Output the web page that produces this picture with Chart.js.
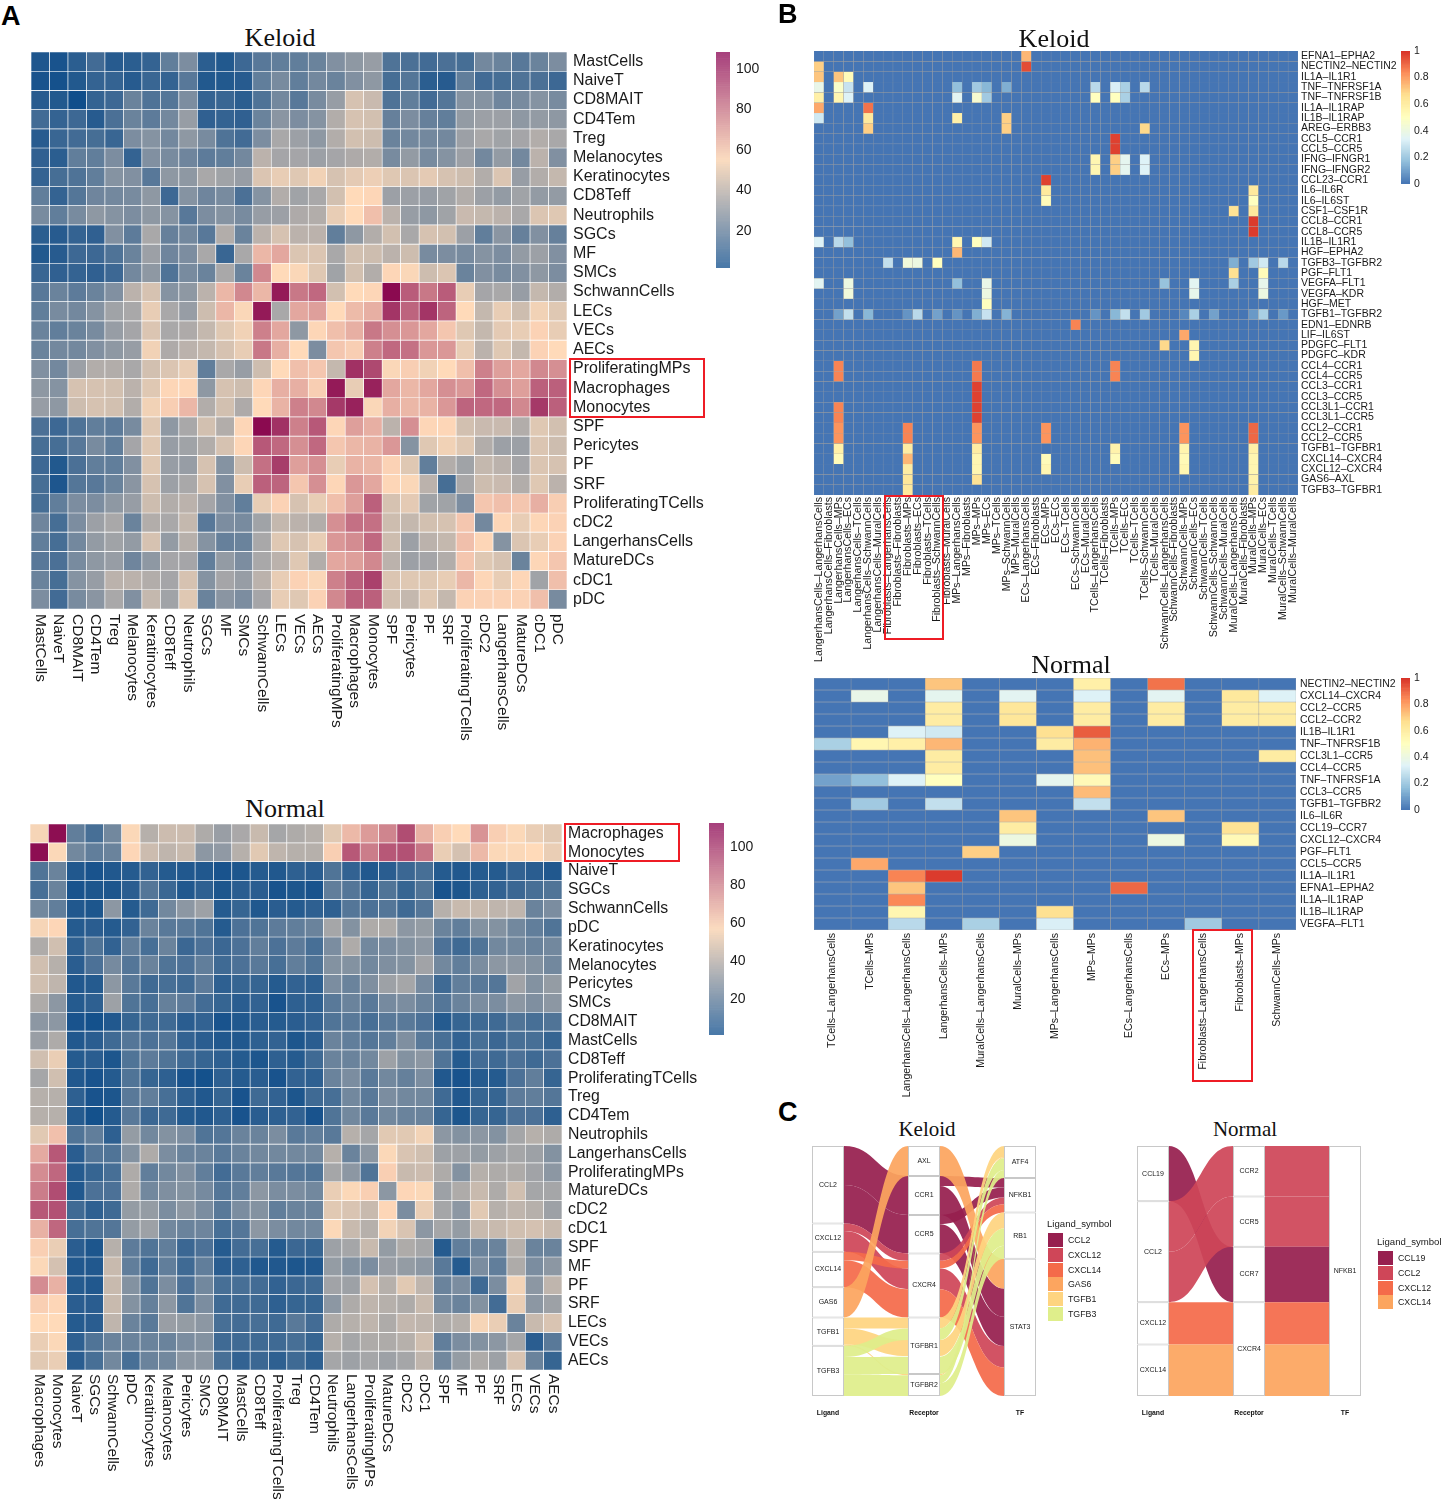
<!DOCTYPE html>
<html>
<head>
<meta charset="utf-8">
<script src="https://cdn.jsdelivr.net/npm/chart.js@4"></script>
<style>
  html, body { margin: 0; background: #fff; }
  #page { position: relative; width: 1448px; height: 1499px; overflow: hidden; font-family: "Liberation Sans", sans-serif; color: #1a1a1a; }
  canvas { position: absolute; }
  .letter { position: absolute; font-weight: bold; font-size: 27px; line-height: 27px; color: #000; }
  .title { position: absolute; font-family: "Liberation Serif", serif; line-height: 1; transform: translate(-50%, -50%); color: #111; white-space: nowrap; }
  .box { position: absolute; border: 2px solid #ee1c25; box-sizing: border-box; }
  .lgTitle { position: absolute; font-size: 9.6px; line-height: 12px; white-space: nowrap; }
  .lgRow { position: absolute; font-size: 8.8px; line-height: 14px; white-space: nowrap; }
  .lgRow i { position: absolute; left: -20px; top: 0; width: 15px; height: 14px; }
</style>
</head>
<body>
<div id="page"></div>
<script>
// Panel A, Keloid: cell-cell interaction counts
const aKeloidLabels = ['MastCells','NaiveT','CD8MAIT','CD4Tem','Treg','Melanocytes','Keratinocytes','CD8Teff','Neutrophils','SGCs','MF','SMCs','SchwannCells','LECs','VECs','AECs','ProliferatingMPs','Macrophages','Monocytes','SPF','Pericytes','PF','SRF','ProliferatingTCells','cDC2','LangerhansCells','MatureDCs','cDC1','pDC'];
const aKeloidValues = [
  [5,4,8,13,7,8,10,20,26,8,6,12,18,20,20,22,27,30,32,16,15,13,15,14,24,22,18,22,26],
  [4,3,6,10,10,7,11,10,18,6,6,7,20,25,20,24,22,27,30,14,17,8,7,20,13,14,16,15,12],
  [7,6,2,10,12,22,16,17,26,10,11,8,16,24,18,25,32,46,43,16,20,13,17,28,28,23,25,28,25],
  [13,10,12,7,15,22,19,24,32,9,10,9,22,29,26,28,38,46,45,21,26,21,20,31,33,33,30,31,30],
  [7,11,13,14,11,26,28,24,30,25,16,13,26,36,33,30,38,45,44,22,24,24,24,33,36,34,35,38,36],
  [9,8,20,20,26,10,27,25,23,19,20,24,40,35,35,33,35,37,38,25,31,25,28,33,24,31,24,40,27],
  [10,14,16,20,28,27,18,30,30,36,34,32,47,50,48,52,46,49,51,48,47,49,46,44,38,47,32,38,42],
  [20,10,17,23,24,25,30,12,28,23,25,15,28,38,34,36,45,55,56,33,33,32,34,38,33,31,34,31,31],
  [25,20,25,30,28,26,30,28,18,26,28,25,32,33,37,38,50,55,62,40,32,30,34,43,42,40,36,47,48],
  [8,7,10,9,27,19,36,21,24,18,38,22,40,46,40,40,20,30,38,45,36,46,45,33,20,29,21,27,21],
  [6,7,12,12,16,22,33,23,26,36,11,36,64,68,47,47,36,45,44,40,44,25,26,25,28,26,31,33,27],
  [11,9,10,9,12,24,30,16,25,22,36,22,76,55,54,48,34,45,38,56,54,44,47,22,27,25,27,30,26],
  [18,22,19,22,27,40,46,28,30,40,64,76,64,104,80,84,45,55,56,108,87,80,87,50,35,36,32,42,38],
  [20,25,24,28,34,36,50,36,32,44,64,54,104,36,68,70,55,63,66,97,85,97,85,55,42,50,44,52,48],
  [22,20,22,25,32,35,47,36,37,42,48,52,78,68,30,56,62,66,80,74,72,68,60,48,42,49,50,57,50],
  [22,24,24,27,30,32,52,37,40,42,46,50,80,66,55,26,60,58,78,84,82,72,72,50,40,48,42,57,55],
  [27,24,33,38,38,36,45,47,50,20,36,32,44,55,62,60,42,98,92,54,58,52,55,62,78,70,68,76,74],
  [30,28,46,46,45,40,48,56,56,30,46,44,56,66,66,58,104,50,102,68,64,68,74,72,84,74,70,86,86],
  [32,30,44,46,45,38,52,58,64,38,45,37,55,65,78,76,96,102,54,66,64,65,72,85,84,84,76,96,86],
  [15,12,16,20,19,25,48,30,36,45,38,56,108,98,78,88,56,70,66,40,74,56,56,45,43,43,38,48,45],
  [14,14,18,25,20,35,48,32,34,38,46,56,88,84,74,84,60,64,65,72,28,48,52,48,38,33,33,47,44],
  [12,6,15,20,20,27,48,32,32,46,28,44,82,95,70,74,50,65,64,57,48,20,38,34,42,40,35,47,46],
  [14,5,17,18,22,29,46,33,36,46,27,50,86,85,60,74,56,72,68,56,54,40,14,36,44,43,38,48,40],
  [14,20,26,26,30,32,44,38,40,35,27,20,50,57,46,50,62,70,86,46,49,34,34,26,60,62,60,66,58],
  [23,14,26,33,36,22,38,36,42,18,26,25,34,42,40,38,74,82,82,44,42,45,46,60,24,56,50,56,57],
  [20,14,24,31,34,31,46,31,39,28,21,22,36,48,46,50,72,75,84,44,33,40,42,62,56,28,47,50,57],
  [18,15,25,30,32,23,30,35,35,20,31,26,36,40,48,38,68,70,76,40,33,35,38,60,48,46,22,56,60],
  [22,14,28,32,40,40,38,35,46,28,35,32,40,50,57,54,78,86,94,47,48,48,50,64,56,50,56,34,62],
  [26,13,25,29,36,27,42,34,48,22,29,26,35,50,48,57,76,86,86,45,42,48,42,57,57,57,57,62,25]
];

// Panel A, Normal
const aNormalLabels = ['Macrophages','Monocytes','NaiveT','SGCs','SchwannCells','pDC','Keratinocytes','Melanocytes','Pericytes','SMCs','CD8MAIT','MastCells','CD8Teff','ProliferatingTCells','Treg','CD4Tem','Neutrophils','LangerhansCells','ProliferatingMPs','MatureDCs','cDC2','cDC1','SPF','MF','PF','SRF','LECs','VECs','AECs'];
const aNormalValues = [
  [55,112,20,14,24,56,40,45,45,38,33,37,44,36,38,40,50,66,74,80,95,68,60,57,76,60,56,52,50],
  [112,56,24,20,22,58,45,42,44,30,31,40,50,42,40,40,60,92,82,92,94,84,52,47,66,56,56,57,52],
  [16,22,5,3,5,6,9,6,5,5,3,4,6,5,8,7,16,9,5,7,11,14,6,5,6,6,9,7,5],
  [14,22,3,4,4,7,17,11,5,8,4,7,7,3,4,3,20,17,10,16,10,16,3,4,8,9,11,14,16],
  [24,20,5,4,30,6,12,24,30,34,6,10,5,7,6,8,8,17,15,17,12,17,40,44,44,42,42,22,26],
  [55,58,6,7,6,9,22,18,18,16,6,15,16,19,20,22,36,28,38,38,30,32,22,20,28,28,24,20,16],
  [38,46,8,16,9,20,14,22,11,15,11,15,20,15,19,14,26,38,24,26,28,30,15,12,16,24,24,22,24],
  [46,40,7,15,25,17,22,16,15,20,12,15,18,14,20,16,28,28,24,27,28,35,24,20,26,30,30,28,24],
  [46,42,5,6,30,18,12,14,12,19,8,10,10,6,9,8,26,22,27,34,36,25,12,20,18,17,35,28,32],
  [38,30,6,8,34,16,14,21,19,13,10,7,9,3,8,8,18,22,18,25,26,22,17,22,26,26,30,27,30],
  [30,30,3,2,5,10,12,12,7,9,3,5,7,6,7,9,16,18,14,18,18,15,6,10,12,12,16,14,16],
  [33,38,5,7,12,17,15,17,9,7,5,5,8,9,4,7,22,20,17,20,27,18,14,9,14,11,14,14,10],
  [46,52,6,7,4,16,19,16,12,10,8,6,4,8,6,12,22,22,24,34,28,30,16,6,13,12,15,12,15],
  [36,46,5,3,6,16,10,8,3,2,8,6,7,3,9,8,22,26,18,24,21,26,5,3,6,6,15,20,10],
  [40,40,8,3,4,18,20,14,8,5,10,3,12,9,4,12,14,24,18,26,24,24,12,5,10,10,19,20,17],
  [40,40,6,2,6,18,11,12,6,5,8,3,7,8,9,3,16,24,18,24,22,22,10,4,10,10,15,15,8],
  [50,64,16,20,8,32,24,28,26,16,17,22,22,26,18,20,18,40,36,50,50,54,30,28,30,28,36,40,38],
  [70,92,7,17,16,28,38,26,22,22,18,22,24,24,24,24,40,22,30,56,48,46,34,34,32,34,36,34,28],
  [78,88,6,10,14,38,20,24,27,20,13,18,20,18,17,16,36,30,16,60,44,45,38,28,40,38,38,35,30],
  [82,95,5,15,15,38,24,27,28,25,17,20,30,26,26,24,52,56,60,30,58,56,34,38,44,38,46,36,36],
  [92,94,12,8,12,32,32,26,30,26,18,26,28,20,22,22,50,48,44,58,26,52,36,30,50,40,42,40,34],
  [68,88,14,16,17,32,34,24,22,23,14,17,30,26,24,24,56,44,40,54,48,30,36,32,44,44,46,47,44],
  [60,52,7,4,40,19,16,20,11,15,6,13,14,6,11,10,34,36,44,32,38,36,6,20,22,22,40,22,22],
  [56,47,5,5,44,20,12,20,12,20,7,8,5,5,4,5,32,28,26,33,32,30,18,6,26,20,38,26,30],
  [78,68,6,5,44,28,16,26,15,24,14,14,13,9,11,12,35,34,47,40,50,42,22,26,12,26,54,30,42],
  [60,58,7,7,44,28,21,30,16,26,12,12,12,8,10,10,30,38,42,40,38,44,24,22,28,13,52,30,34],
  [57,57,6,7,42,22,18,33,32,30,14,13,14,12,18,13,38,40,42,38,43,42,38,40,55,52,22,44,48],
  [52,56,8,16,22,22,22,22,26,28,12,12,12,12,14,10,40,36,38,38,40,46,20,26,28,30,36,7,18],
  [50,52,7,14,24,14,22,24,30,30,14,9,11,8,12,8,36,34,36,34,36,42,24,32,38,34,48,22,10]
];

// Panel B, Keloid: ligand-receptor scores, only the non zero cells as [row, column, score]
const cellTypes = ['LangerhansCells','Fibroblasts','MPs','ECs','TCells','SchwannCells','MuralCells'];
const bKeloidCols = cellTypes.flatMap(a => cellTypes.map(b => a + '\u2013' + b));
const bKeloidRows = ['EFNA1\u2013EPHA2','NECTIN2\u2013NECTIN2','IL1A\u2013IL1R1','TNF\u2013TNFRSF1A','TNF\u2013TNFRSF1B','IL1A\u2013IL1RAP','IL1B\u2013IL1RAP','AREG\u2013ERBB3','CCL5\u2013CCR1','CCL5\u2013CCR5','IFNG\u2013IFNGR1','IFNG\u2013IFNGR2','CCL23\u2013CCR1','IL6\u2013IL6R','IL6\u2013IL6ST','CSF1\u2013CSF1R','CCL8\u2013CCR1','CCL8\u2013CCR5','IL1B\u2013IL1R1','HGF\u2013EPHA2','TGFB3\u2013TGFBR2','PGF\u2013FLT1','VEGFA\u2013FLT1','VEGFA\u2013KDR','HGF\u2013MET','TGFB1\u2013TGFBR2','EDN1\u2013EDNRB','LIF\u2013IL6ST','PDGFC\u2013FLT1','PDGFC\u2013KDR','CCL4\u2013CCR1','CCL4\u2013CCR5','CCL3\u2013CCR1','CCL3\u2013CCR5','CCL3L1\u2013CCR1','CCL3L1\u2013CCR5','CCL2\u2013CCR1','CCL2\u2013CCR5','TGFB1\u2013TGFBR1','CXCL14\u2013CXCR4','CXCL12\u2013CXCR4','GAS6\u2013AXL','TGFB3\u2013TGFBR1'];
const bKeloidCells = [
  [0,21,.75],[1,0,.7],[1,21,.95],[2,0,.72],[2,2,.72],[2,3,.52],
  [3,0,.38],[3,2,.47],[3,3,.28],[3,5,.33],[3,14,.17],[3,16,.2],[3,17,.15],[3,19,.13],[3,28,.25],[3,30,.32],[3,31,.22],[3,33,.25],
  [4,0,.58],[4,2,.55],[4,3,.33],[4,14,.35],[4,16,.45],[4,17,.2],[4,28,.5],[4,30,.5],[4,31,.22],
  [5,0,.78],[5,5,.88],[6,0,.3],[6,5,.62],[6,14,.58],[6,19,.7],[7,5,.7],[7,19,.7],[7,33,.68],
  [8,30,.97],[9,30,.97],[10,28,.55],[10,30,.7],[10,31,.36],[10,33,.33],[11,28,.55],[11,30,.7],[11,31,.36],[11,33,.33],
  [12,23,.97],[13,23,.62],[13,44,.62],[14,23,.52],[14,44,.5],[15,42,.65],[15,44,.62],[16,44,.98],[17,44,.98],
  [18,0,.33],[18,2,.25],[18,3,.17],[18,14,.55],[18,16,.5],[18,17,.3],[19,14,.75],
  [20,7,.27],[20,9,.42],[20,10,.4],[20,12,.5],[20,42,.13],[20,44,.2],[20,45,.3],[20,47,.25],[21,42,.66],[21,45,.52],
  [22,0,.35],[22,3,.4],[22,14,.17],[22,17,.38],[22,35,.18],[22,38,.35],[22,42,.22],[22,45,.37],
  [23,3,.42],[23,17,.4],[23,38,.37],[23,45,.4],[24,17,.5],
  [25,2,.1],[25,3,.27],[25,5,.15],[25,9,.07],[25,10,.25],[25,12,.1],[25,14,.07],[25,16,.13],[25,17,.28],[25,19,.14],[25,28,.07],[25,30,.15],[25,31,.27],[25,33,.2],[25,37,.04],[25,38,.22],[25,40,.1],[25,44,.08],[25,45,.22],[25,47,.08],
  [26,26,.85],[27,37,.78],[28,35,.68],[28,38,.55],[29,38,.55],
  [30,2,.85],[30,16,.87],[30,30,.85],[31,2,.85],[31,16,.87],[31,30,.85],[32,16,.97],[33,16,.97],[34,2,.85],[34,16,.97],[35,2,.85],[35,16,.97],
  [36,2,.82],[36,9,.85],[36,16,.82],[36,23,.82],[36,37,.82],[36,44,.9],[37,2,.82],[37,9,.85],[37,16,.82],[37,23,.82],[37,37,.82],[37,44,.9],
  [38,2,.58],[38,9,.6],[38,16,.6],[38,30,.57],[38,37,.56],[38,44,.58],
  [39,2,.52],[39,9,.75],[39,16,.55],[39,23,.52],[39,30,.52],[39,37,.53],[39,44,.55],
  [40,9,.6],[40,16,.55],[40,23,.55],[40,37,.55],[40,44,.55],[41,9,.63],[41,16,.65],[41,44,.57],[42,9,.62],[42,44,.6]
];

// Panel B, Normal
const bNormalCols = ['TCells\u2013LangerhansCells','TCells\u2013MPs','LangerhansCells\u2013LangerhansCells','LangerhansCells\u2013MPs','MuralCells\u2013LangerhansCells','MuralCells\u2013MPs','MPs\u2013LangerhansCells','MPs\u2013MPs','ECs\u2013LangerhansCells','ECs\u2013MPs','Fibroblasts\u2013LangerhansCells','Fibroblasts\u2013MPs','SchwannCells\u2013MPs'];
const bNormalRows = ['NECTIN2\u2013NECTIN2','CXCL14\u2013CXCR4','CCL2\u2013CCR5','CCL2\u2013CCR2','IL1B\u2013IL1R1','TNF\u2013TNFRSF1B','CCL3L1\u2013CCR5','CCL4\u2013CCR5','TNF\u2013TNFRSF1A','CCL3\u2013CCR5','TGFB1\u2013TGFBR2','IL6\u2013IL6R','CCL19\u2013CCR7','CXCL12\u2013CXCR4','PGF\u2013FLT1','CCL5\u2013CCR5','IL1A\u2013IL1R1','EFNA1\u2013EPHA2','IL1A\u2013IL1RAP','IL1B\u2013IL1RAP','VEGFA\u2013FLT1'];
const bNormalCells = [
  [0,3,.72],[0,7,.58],[0,9,.88],
  [1,1,.38],[1,3,.36],[1,5,.35],[1,7,.33],[1,9,.35],[1,11,.62],[1,12,.33],
  [2,3,.6],[2,5,.63],[2,7,.6],[2,9,.6],[2,11,.6],[2,12,.6],
  [3,3,.6],[3,5,.63],[3,7,.6],[3,9,.6],[3,11,.6],[3,12,.6],
  [4,2,.33],[4,3,.3],[4,6,.66],[4,7,.92],
  [5,0,.22],[5,1,.55],[5,2,.58],[5,3,.75],[5,6,.6],[5,7,.76],
  [6,3,.6],[6,7,.73],[6,12,.6],[7,3,.6],[7,7,.73],
  [8,0,.1],[8,1,.17],[8,2,.33],[8,3,.5],[8,6,.36],[8,7,.53],
  [9,7,.74],[10,1,.2],[10,3,.27],[10,7,.27],[11,5,.72],[11,9,.72],[12,5,.6],[12,11,.65],
  [13,5,.4],[13,9,.4],[13,11,.53],[14,4,.7],[15,1,.78],[16,2,.85],[16,3,.98],[17,2,.72],[17,8,.9],
  [18,2,.84],[19,2,.55],[19,6,.66],[20,2,.25],[20,4,.22],[20,6,.32],[20,10,.2]
];

// Panel C: stratum weights per axis
const cAxes = ['Ligand','Receptor','TF'];
const cKeloidLigands = ['CCL2','CXCL12','CXCL14','GAS6','TGFB1','TGFB3'];
const cKeloidLigandWeights = [23.3,8.5,10.6,9.1,8.5,15.1];
const cKeloidReceptors = ['AXL','CCR1','CCR5','CXCR4','TGFBR1','TGFBR2'];
const cKeloidReceptorWeights = [9,11.7,11.6,19.2,17,6.6];
const cKeloidTFs = ['ATF4','NFKB1','RB1','STAT3'];
const cKeloidTFWeights = [9.6,10.4,13.9,41.2];
// flows: [from axis, from top, from bottom, to top, to bottom, ligand index]
const cKeloidFlows = [
  [0,0,11.7,9,20.7,0],[0,11.7,23.3,20.7,32.3,0],
  [0,23.3,25.5,32.3,34.5,1],[0,25.5,31.8,36.8,43,1],
  [0,31.8,34.3,34.5,36.8,2],[0,34.3,42.4,43,51.5,2],
  [0,42.4,51.5,0,9,3],
  [0,51.5,54.8,51.5,54.8,4],[0,54.8,59.6,58.3,63.1,4],[0,59.6,60,68.5,68.9,4],
  [0,60,63.4,54.8,58.3,5],[0,63.4,68.6,63.3,68.5,5],[0,68.6,75.1,68.9,75.1,5],
  [1,9,12,9.6,12.5,0],[1,12,20.7,42.8,51.3,0],[1,20.7,23.5,12.5,15.5,0],[1,23.5,32.3,51.3,60.1,0],
  [1,32.3,34.5,15.5,17.5,1],[1,36.8,43,60.1,66.5,1],
  [1,34.5,36.8,17.5,20,2],[1,43,51.5,66.5,75.1,2],
  [1,0,9,33.9,42.8,3],
  [1,51.5,54.8,0,3.3,4],[1,58.3,63.1,20,24.8,4],[1,68.5,68.9,3.3,3.7,4],
  [1,54.8,58.3,3.7,7.2,5],[1,63.3,68.5,24.8,30,5],[1,68.9,71.3,7.2,9.6,5],[1,71.3,75.1,30,33.9,5]
];
const cNormalLigands = ['CCL19','CCL2','CXCL12','CXCL14'];
const cNormalLigandWeights = [16.6,30.3,12.7,15.5];
const cNormalReceptors = ['CCR2','CCR5','CCR7','CXCR4'];
const cNormalReceptorWeights = [15.2,15.1,16.6,28.2];
const cNormalTFs = ['NFKB1'];
const cNormalTFWeights = [75.1];
const cNormalFlows = [
  [0,0,16.6,30.3,46.9,0],[0,16.6,31.8,0,15.2,1],[0,31.8,46.9,15.2,30.3,1],
  [0,46.9,59.6,46.9,59.6,2],[0,59.6,75.1,59.6,75.1,3],
  [1,0,15.2,0,15.2,1],[1,15.2,30.3,15.2,30.3,1],[1,30.3,46.9,30.3,46.9,0],
  [1,46.9,59.6,46.9,59.6,2],[1,59.6,75.1,59.6,75.1,3]
];
const cKeloidColors = ['#971f4f','#cf4658','#f46b4a','#fca55f','#fed480','#dfee8b'];
const cNormalColors = ['#971f4f','#cf4658','#f46b4a','#fca55f'];

const page = document.getElementById('page');
const sansFont = '"Liberation Sans", sans-serif';

function hex(c) {
  return [1, 3, 5].map(i => parseInt(c.substr(i, 2), 16));
}

// piecewise linear colour ramp over evenly spaced stops
function ramp(stops, lo, hi) {
  const rgb = stops.map(hex);
  return v => {
    const t = Math.min(1, Math.max(0, (v - lo) / (hi - lo))) * (rgb.length - 1);
    const i = Math.min(rgb.length - 2, Math.floor(t));
    const f = t - i;
    const c = rgb[i].map((a, k) => Math.round(a + (rgb[i + 1][k] - a) * f));
    return 'rgb(' + c.join(',') + ')';
  };
}

const countStops = ['#104e8b', '#ffdab9', '#8b0a50'];
const countBarStops = ['#4878a8', '#fbdcc0', '#a63f7c'];
const scoreStops = ['#4575b4', '#91bfdb', '#e0f3f8', '#ffffbf', '#fee090', '#fc8d59', '#d73027'];

function addCanvas(left, top, width, height) {
  const c = document.createElement('canvas');
  c.width = width;
  c.height = height;
  c.style.left = left + 'px';
  c.style.top = top + 'px';
  page.appendChild(c);
  return c;
}

function addText(cls, text, left, top, size) {
  const d = document.createElement('div');
  d.className = cls;
  d.textContent = text;
  d.style.left = left + 'px';
  d.style.top = top + 'px';
  if (size) d.style.fontSize = size + 'px';
  page.appendChild(d);
  return d;
}

function addBox(x0, y0, x1, y1) {
  const d = document.createElement('div');
  d.className = 'box';
  d.style.cssText = `left:${x0}px;top:${y0}px;width:${x1 - x0}px;height:${y1 - y0}px`;
  page.appendChild(d);
}

function sparseToMatrix(rows, cols, cells) {
  const m = rows.map(() => cols.map(() => 0));
  cells.forEach(([r, c, v]) => { m[r][c] = v; });
  return m;
}

// Each row is a dataset of floating bars, so a cell is a bar on the shared slot
function heatmap(o) {
  const w = Math.round(o.width), h = Math.round(o.height);
  const canvas = addCanvas(o.left, o.top, w + o.rowLabelWidth, h + o.colLabelHeight);
  const color = ramp(o.stops, o.lo, o.hi);
  new Chart(canvas, {
    type: 'bar',
    data: {
      labels: o.cols,
      datasets: o.rows.map((name, r) => ({
        label: name,
        data: o.cols.map(() => [r - 0.5, r + 0.5]),
        backgroundColor: o.values[r].map(color),
        borderColor: o.border,
        borderWidth: o.borderWidth,
        borderSkipped: false,
        barPercentage: 1,
        categoryPercentage: 1
      }))
    },
    options: {
      responsive: false,
      animation: false,
      events: [],
      layout: { padding: 0 },
      plugins: { legend: { display: false }, tooltip: { enabled: false } },
      scales: {
        x: {
          stacked: true,
          grid: { display: false, drawTicks: false },
          border: { display: false },
          ticks: {
            autoSkip: false,
            minRotation: o.colRotation,
            maxRotation: o.colRotation,
            padding: o.colPad,
            color: '#1a1a1a',
            font: { family: sansFont, size: o.colFont }
          },
          afterBuildTicks: s => {
            if (o.colRotation < 0) s._getXAxisLabelAlignment = () => 'left';
          },
          afterFit: s => { s.height = o.colLabelHeight; s.paddingLeft = 0; s.paddingRight = 0; }
        },
        y: {
          position: 'right',
          reverse: true,
          min: -0.5,
          max: o.rows.length - 0.5,
          grid: { display: false, drawTicks: false },
          border: { display: false },
          ticks: {
            autoSkip: false,
            padding: o.rowPad,
            color: '#1a1a1a',
            font: { family: sansFont, size: o.rowFont },
            callback: v => o.rows[v]
          },
          afterBuildTicks: s => { s.ticks = o.rows.map((_, i) => ({ value: i })); },
          afterFit: s => { s.width = o.rowLabelWidth; s.paddingTop = 0; s.paddingBottom = 0; }
        }
      }
    }
  });
}

function colorbar(o) {
  const pad = 9;
  const canvas = addCanvas(o.left, o.top - pad, o.width + 40, o.height + pad * 2);
  const color = ramp(o.stops, o.lo, o.hi);
  const step = (o.hi - o.lo) / 100;
  const segments = [];
  for (let i = 0; i < 100; i++) {
    const a = o.lo + i * step;
    segments.push({ data: [[a, a + step]], backgroundColor: color(a + step / 2), barPercentage: 1, categoryPercentage: 1 });
  }
  new Chart(canvas, {
    type: 'bar',
    data: { labels: [''], datasets: segments },
    options: {
      responsive: false,
      animation: false,
      events: [],
      layout: { padding: { top: pad, bottom: pad } },
      plugins: { legend: { display: false }, tooltip: { enabled: false } },
      scales: {
        x: { display: false, stacked: true },
        y: {
          position: 'right',
          min: o.lo,
          max: o.hi,
          grid: { display: false, drawTicks: false },
          border: { display: false },
          ticks: {
            padding: o.pad,
            color: '#1a1a1a',
            font: { family: sansFont, size: o.font },
            callback: v => String(v)
          },
          afterBuildTicks: s => { s.ticks = o.ticks.map(v => ({ value: v })); },
          afterFit: s => { s.width = 40; s.paddingTop = 0; s.paddingBottom = 0; }
        }
      }
    }
  });
}

// Strata are floating bars; flows use the same scales to place their ribbons
function alluvial(o) {
  const axes = [
    [o.ligands, o.ligandWeights],
    [o.receptors, o.receptorWeights],
    [o.tfs, o.tfWeights]
  ];
  const total = o.ligandWeights.reduce((a, b) => a + b, 0);
  const datasets = [];
  axes.forEach(([names, weights], axis) => {
    let pos = 0;
    names.forEach((name, i) => {
      const data = [null, null, null];
      data[axis] = [pos, pos + weights[i]];
      pos += weights[i];
      datasets.push({
        label: name,
        data,
        backgroundColor: '#fff',
        borderColor: '#c8c8c8',
        borderWidth: 1,
        borderSkipped: false,
        barPercentage: 1 / 3,
        categoryPercentage: 1
      });
    });
  });
  const ribbons = {
    id: 'ribbons',
    afterDatasetsDraw(chart) {
      const { ctx, scales: { x, y } } = chart;
      const half = chart.getDatasetMeta(0).data[0].width / 2;
      o.flows.forEach(([axis, a0, a1, b0, b1, lig]) => {
        const xa = x.getPixelForValue(axis) + half;
        const xb = x.getPixelForValue(axis + 1) - half;
        const xm = (xa + xb) / 2;
        ctx.save();
        ctx.globalAlpha = 0.93;
        ctx.fillStyle = o.colors[lig];
        ctx.beginPath();
        ctx.moveTo(xa, y.getPixelForValue(a0));
        ctx.bezierCurveTo(xm, y.getPixelForValue(a0), xm, y.getPixelForValue(b0), xb, y.getPixelForValue(b0));
        ctx.lineTo(xb, y.getPixelForValue(b1));
        ctx.bezierCurveTo(xm, y.getPixelForValue(b1), xm, y.getPixelForValue(a1), xa, y.getPixelForValue(a1));
        ctx.closePath();
        ctx.fill();
        ctx.restore();
      });
      ctx.save();
      ctx.fillStyle = '#1a1a1a';
      ctx.font = '7px ' + sansFont;
      ctx.textAlign = 'center';
      ctx.textBaseline = 'middle';
      datasets.forEach((ds, i) => {
        const axis = ds.data.findIndex(d => d);
        const [a, b] = ds.data[axis];
        ctx.fillText(ds.label, x.getPixelForValue(axis), y.getPixelForValue((a + b) / 2));
      });
      ctx.restore();
    }
  };
  const canvas = addCanvas(o.left, o.top, 288, o.height + 30);
  new Chart(canvas, {
    type: 'bar',
    data: { labels: cAxes, datasets },
    options: {
      responsive: false,
      animation: false,
      events: [],
      layout: { padding: 0 },
      plugins: { legend: { display: false }, tooltip: { enabled: false } },
      scales: {
        x: {
          stacked: true,
          grid: { display: false, drawTicks: false },
          border: { display: false },
          ticks: { padding: 13, color: '#111', font: { family: sansFont, size: 6.8, weight: 'bold' } },
          afterFit: s => { s.height = 30; s.paddingLeft = 0; s.paddingRight = 0; }
        },
        y: { display: false, reverse: true, min: 0, max: total }
      }
    },
    plugins: [ribbons]
  });
}

function ligandLegend(x, y, names, colors) {
  addText('lgTitle', 'Ligand_symbol', x - 1, y - 15);
  names.forEach((name, i) => {
    const d = addText('lgRow', name, x + 20, y + i * 14.75);
    const s = document.createElement('i');
    s.style.background = colors[i];
    d.appendChild(s);
  });
}

// Panel A
heatmap({ left: 31, top: 52, width: 536, height: 557, rows: aKeloidLabels, cols: aKeloidLabels, values: aKeloidValues,
  stops: countStops, lo: 2, hi: 108, border: '#fff', borderWidth: 0.65, rowLabelWidth: 150, colLabelHeight: 140,
  colRotation: -90, colPad: 5, rowPad: 6, rowFont: 16, colFont: 15.5 });
colorbar({ left: 716, top: 52, width: 14, height: 216, stops: countBarStops, lo: 1.7, hi: 108.4, ticks: [20, 40, 60, 80, 100], font: 14, pad: 6 });

heatmap({ left: 30, top: 823.5, width: 532, height: 546, rows: aNormalLabels, cols: aNormalLabels, values: aNormalValues,
  stops: countStops, lo: 1, hi: 113, border: '#fff', borderWidth: 0.65, rowLabelWidth: 150, colLabelHeight: 130,
  colRotation: -90, colPad: 4, rowPad: 6, rowFont: 15.8, colFont: 15.4 });
colorbar({ left: 709, top: 823, width: 15, height: 212, stops: countBarStops, lo: 0.93, hi: 113, ticks: [20, 40, 60, 80, 100], font: 14, pad: 6 });

// Panel B
heatmap({ left: 814, top: 51, width: 484, height: 444, rows: bKeloidRows, cols: bKeloidCols, values: sparseToMatrix(bKeloidRows, bKeloidCols, bKeloidCells),
  stops: scoreStops, lo: 0, hi: 1, border: '#a0a0a0', borderWidth: 0.4, rowLabelWidth: 110, colLabelHeight: 175,
  colRotation: 90, colPad: 2, rowPad: 3, rowFont: 10.5, colFont: 10.6 });
colorbar({ left: 1401, top: 51, width: 9, height: 133, stops: scoreStops, lo: 0, hi: 1, ticks: [0, 0.2, 0.4, 0.6, 0.8, 1], font: 10.5, pad: 4 });

heatmap({ left: 814, top: 677.5, width: 482, height: 252, rows: bNormalRows, cols: bNormalCols, values: sparseToMatrix(bNormalRows, bNormalCols, bNormalCells),
  stops: scoreStops, lo: 0, hi: 1, border: '#a0a0a0', borderWidth: 0.5, rowLabelWidth: 110, colLabelHeight: 175,
  colRotation: 90, colPad: 3, rowPad: 4, rowFont: 10.5, colFont: 10.55 });
colorbar({ left: 1401, top: 678, width: 9, height: 132, stops: scoreStops, lo: 0, hi: 1, ticks: [0, 0.2, 0.4, 0.6, 0.8, 1], font: 10.5, pad: 4 });

// Panel C
alluvial({ left: 779.5, top: 1145.7, height: 250, ligands: cKeloidLigands, ligandWeights: cKeloidLigandWeights,
  receptors: cKeloidReceptors, receptorWeights: cKeloidReceptorWeights, tfs: cKeloidTFs, tfWeights: cKeloidTFWeights,
  flows: cKeloidFlows, colors: cKeloidColors });
alluvial({ left: 1105, top: 1145.7, height: 250, ligands: cNormalLigands, ligandWeights: cNormalLigandWeights,
  receptors: cNormalReceptors, receptorWeights: cNormalReceptorWeights, tfs: cNormalTFs, tfWeights: cNormalTFWeights,
  flows: cNormalFlows, colors: cNormalColors });
ligandLegend(1048, 1233, cKeloidLigands, cKeloidColors);
ligandLegend(1378, 1251, cNormalLigands, cNormalColors);

// Titles, panel letters, highlight boxes
addText('letter', 'A', 1, 3);
addText('letter', 'B', 778, 1);
addText('letter', 'C', 778, 1099);
addText('title', 'Keloid', 280, 38, 26);
addText('title', 'Normal', 285, 809, 26);
addText('title', 'Keloid', 1054, 39, 26);
addText('title', 'Normal', 1071, 665, 26);
addText('title', 'Keloid', 927, 1129, 21);
addText('title', 'Normal', 1245, 1129, 21);
addBox(569, 358, 705, 418);
addBox(564, 823, 680, 862);
addBox(884, 495, 944, 640);
addBox(1192, 929, 1253, 1082);
</script>
</body>
</html>
